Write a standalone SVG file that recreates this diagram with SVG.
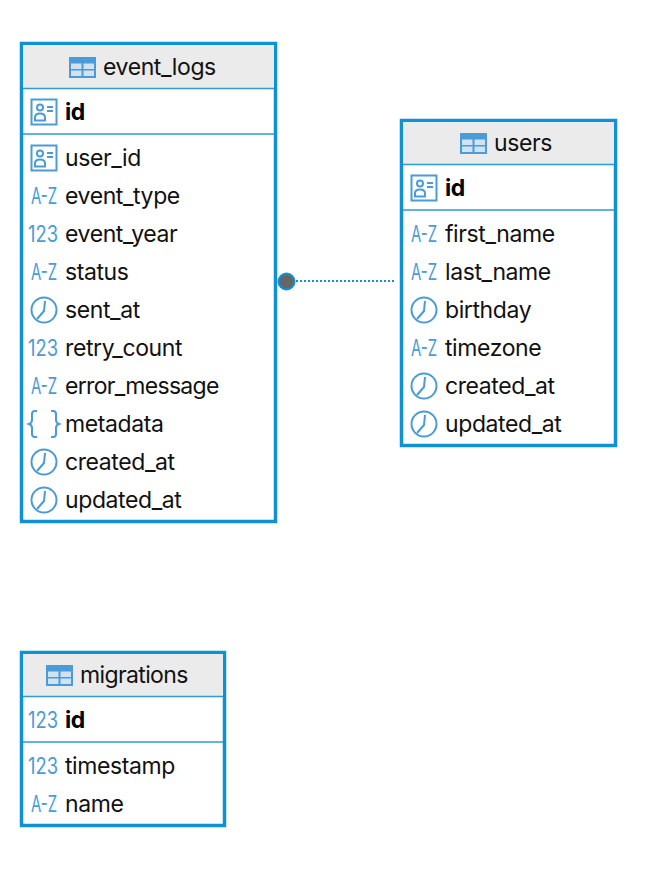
<svg xmlns="http://www.w3.org/2000/svg" width="658" height="878" viewBox="0 0 658 878">
<style>
.box{fill:#fff;stroke:#0f92d4;stroke-width:3.500}
.head{fill:#ebebeb}
.sep{stroke:#2f9bdc;stroke-width:1.600;fill:none}
text{font-family:"Inter","Liberation Sans",sans-serif;font-size:23px;letter-spacing:-0.4px;fill:#111}
.b{font-weight:700;fill:#000}
.ic{fill:none;stroke:#4a9bd6;stroke-width:2}
text.t{font-size:22.500px;letter-spacing:0;fill:#4a9bd6}
.conn{stroke:#0f92d4;stroke-width:2;stroke-dasharray:2 2;fill:none}
</style>
<defs>
<g id="tbl"><rect x="0" y="0" width="27" height="21" fill="#4a9bd6"/><rect x="2" y="6.500" width="10.500" height="5.500" fill="#cfe3f3"/><rect x="14.500" y="6.500" width="10.500" height="5.500" fill="#cfe3f3"/><rect x="2" y="13.500" width="10.500" height="5.500" fill="#cfe3f3"/><rect x="14.500" y="13.500" width="10.500" height="5.500" fill="#cfe3f3"/></g>
<g id="key" class="ic"><rect x="-12.500" y="-12.500" width="25" height="25"/><circle cx="-4" cy="-4.500" r="3"/><path d="M-9 8.500v-3q0-4 5-4t5 4v3zM3-5h6M3-1h6"/></g>
<g id="clk" class="ic"><circle r="12.500"/><path d="M1-9 L0 1 L-7 9"/></g>
<g id="az"><text class="t" x="-13" y="8" textLength="26" lengthAdjust="spacingAndGlyphs">A-Z</text></g>
<g id="num"><text class="t" x="-16" y="8" textLength="30" lengthAdjust="spacingAndGlyphs">123</text></g>
<g id="js" class="ic"><path d="M-7-13h-2q-3 0-3 3v6q0 3-3 4 3 1 3 4v6q0 3 3 3h2M7-13h2q3 0 3 3v6q0 3 3 4-3 1-3 4v6q0 3-3 3h-2"/></g>
</defs>

<g id="connectors">
<line class="conn" x1="296" y1="281" x2="395" y2="281"/>
</g>

<g id="event_logs">
<rect class="box" x="21.500" y="43.500" width="254" height="478"/>
<rect class="head" x="23" y="45" width="251" height="43"/>
<path class="sep" d="M23 88.500H274M23 134H274"/>
<use href="#tbl" x="69" y="57"/>
<text x="103" y="75">event_logs</text>
<use href="#key" x="44" y="112"/><text class="b" x="65" y="120">id</text>
<use href="#key" x="44" y="158"/><text x="65" y="166">user_id</text>
<use href="#az" x="44" y="196"/><text x="65" y="204">event_type</text>
<use href="#num" x="44" y="234"/><text x="65" y="242">event_year</text>
<use href="#az" x="44" y="272"/><text x="65" y="280">status</text>
<use href="#clk" x="44" y="310"/><text x="65" y="318">sent_at</text>
<use href="#num" x="44" y="348"/><text x="65" y="356">retry_count</text>
<use href="#az" x="44" y="386"/><text x="65" y="394" textLength="154">error_message</text>
<use href="#js" x="44" y="424"/><text x="65" y="432">metadata</text>
<use href="#clk" x="44" y="462"/><text x="65" y="470">created_at</text>
<use href="#clk" x="44" y="500"/><text x="65" y="508">updated_at</text>
</g>

<g id="users">
<rect class="box" x="401.500" y="120.500" width="214" height="325"/>
<rect class="head" x="403" y="122" width="211" height="42"/>
<path class="sep" d="M403 164.500H614M403 210H614"/>
<use href="#tbl" x="460" y="133"/>
<text x="494" y="151">users</text>
<use href="#key" x="424" y="188"/><text class="b" x="445" y="196">id</text>
<use href="#az" x="424" y="234"/><text x="445" y="242">first_name</text>
<use href="#az" x="424" y="272"/><text x="445" y="280">last_name</text>
<use href="#clk" x="424" y="310"/><text x="445" y="318">birthday</text>
<use href="#az" x="424" y="348"/><text x="445" y="356">timezone</text>
<use href="#clk" x="424" y="386"/><text x="445" y="394">created_at</text>
<use href="#clk" x="424" y="424"/><text x="445" y="432">updated_at</text>
</g>

<g id="migrations">
<rect class="box" x="21.500" y="652.500" width="203" height="173"/>
<rect class="head" x="23" y="654" width="200" height="42"/>
<path class="sep" d="M23 696.500H223M23 742H223"/>
<use href="#tbl" x="46" y="665"/>
<text x="80" y="683" textLength="108">migrations</text>
<use href="#num" x="44" y="720"/><text class="b" x="65" y="728">id</text>
<use href="#num" x="44" y="766"/><text x="65" y="774">timestamp</text>
<use href="#az" x="44" y="804"/><text x="65" y="812">name</text>
</g>

<circle cx="286.500" cy="281.500" r="8" fill="#666" stroke="#0f92d4" stroke-width="2"/>
</svg>
